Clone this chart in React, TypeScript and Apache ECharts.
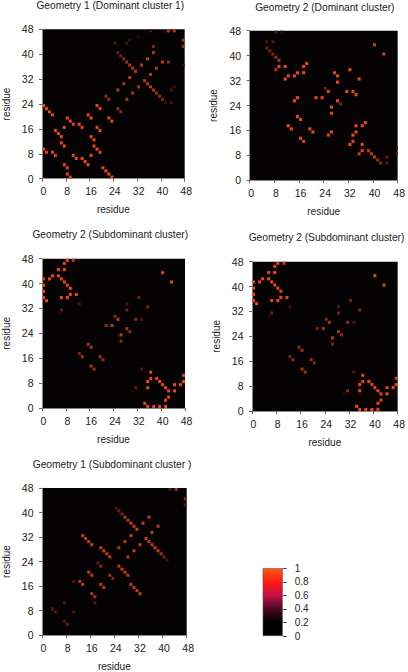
import React, { useEffect, useRef } from "react";
import * as echarts from "echarts";

const TITLES = [
  "Geometry 1 (Dominant cluster 1)",
  "Geometry 2 (Dominant cluster)",
  "Geometry 2 (Subdominant cluster)",
  "Geometry 2 (Subdominant cluster)",
  "Geometry 1 (Subdominant cluster )",
];
const AXIS_NAME = "residue";
const COLORBAR_TICKS = [0, 0.2, 0.4, 0.6, 0.8, 1];
const COLORBAR_STOPS = [
  [0, "#000000"],
  [0.2, "#000000"],
  [0.4, "#4a0a24"],
  [0.6, "#c8104a"],
  [0.8, "#ff1a14"],
  [1, "#ff5a12"],
];

type Cell = [number, number, number?];

// [residue x, residue y, intensity]; intensity defaults to 0.95
const geo1Dominant: Cell[] = [
  [0,23],[1,22],[2,21],[3,20],[0,9],[1,8],[3,8],[4,7],[7,16],[8,19],[9,18],[10,17],[12,17],[13,16],
  [4,15],[5,14],[6,13],[6,11],[7,10],[7,4],[8,3],[8,1],[9,0],[10,7],[11,6],[13,6],[14,5],[15,4],[16,7],
  [16,13],[17,12],[17,10],[18,9],[19,8],[15,20],[16,19],[18,23],[19,22],[18,16],[19,15],[22,19],[23,18],
  [20,3],[21,2],[22,1],[23,0],
  [21,26,0.55],[22,25,0.6],[25,28,0.75],[27,30,0.7],[29,32,0.75],[25,22,0.6],[26,21,0.5],
  [28,25,0.7],[30,27,0.7],[32,29,0.7],
  [24,43,0.25],[25,40,0.4],[26,39,0.45],[27,38,0.55],[28,37,0.65],[29,36,0.7],[30,35,0.75],[31,34,0.75],
  [33,36,0.75],[35,38,0.8],[37,40,0.7],[37,42,0.5],[38,35,0.7],[36,33,0.7],
  [34,31,0.75],[35,30,0.75],[36,29,0.75],[37,28,0.7],[38,27,0.65],[39,26,0.6],[40,25,0.5],[41,24,0.2],
  [40,37,0.75],[42,37,0.65],[42,47,0.75],[44,47,0.75],[47,44,0.7],[47,42,0.65],[47,36,0.2],[36,47,0.25],
  [28,43,0.25],[29,44,0.2],[32,45,0.12],[43,28,0.3],[44,29,0.2],[43,24,0.25],
];
const geo2Dominant: Cell[] = [
  [8,47,0.3],[10,47,0.12],[5,44,0.3],[7,44,0.3],[5,42,0.4],[6,41,0.45],[7,40,0.5],[8,39,0.6],[9,38,0.7],
  [8,35,0.7],[9,36],[11,36],[11,32],[12,33],[14,33],[15,34],[17,34],[17,36],[18,37],
  [14,25],[15,26],[12,17],[13,16],[15,20],[16,19],[16,13],[17,12],[19,16],[20,15],
  [21,26],[23,26],[24,29,0.4],[25,28],[27,34],[28,33],[28,31],[28,25],[29,24,0.45],[26,23],[26,21],[25,14],[26,15],
  [31,28],[33,28],[34,27],[32,35],[35,32],[40,43,0.85],[43,40,0.85],
  [34,17],[36,17],[37,18],[34,15],[33,14],[33,12],[32,11],[36,11],[36,9],[35,8,0.8],[38,9,0.8],[39,8,0.75],
  [40,7,0.7],[41,6,0.6],[42,5,0.55],[44,5,0.3],[44,7,0.35],[47,8,0.25],[47,10,0.12],
];
const geo2SubA: Cell[] = [
  [0,41],[0,39],[0,37],[0,35],[1,34],[2,41],[3,42],[5,42],[6,41],[7,40],[8,39],[9,38],[9,36],[8,35],[6,35],[11,36],
  [5,44],[7,44],[7,46],[8,47],[10,47,0.8],[12,33,0.3],[6,31,0.4],[5,30,0.12],[40,43],[43,40],
  [12,17,0.5],[13,16,0.65],[15,20,0.65],[16,19,0.7],[16,13,0.7],[17,12,0.65],[19,16,0.65],[20,15,0.6],
  [21,26,0.6],[23,26,0.75],[24,29,0.55],[25,28,0.75],[28,33,0.3],[28,31,0.45],[28,25,0.7],[29,24,0.6],
  [26,23,0.8],[26,21,0.55],[31,28,0.55],[33,28,0.3],[32,35,0.45],[35,32,0.5],
  [33,12,0.3],[36,11],[36,9],[35,8],[35,6],[38,9],[39,8],[40,7],[41,6],[42,5],[44,5],[44,7],[46,7],[47,8],[47,10,0.85],
  [42,3],[41,2],[41,0],[39,0],[37,0],[35,0],[34,1],[31,6,0.4],[30,5,0.12],
];
const geo2SubB: Cell[] = [
  [0,41],[0,39],[0,37],[0,35],[1,34],[2,41],[3,42],[5,42],[6,41],[7,40],[8,39],[9,38],[9,36],[8,35],[6,35],[11,36],
  [5,44],[7,44],[7,46],[8,47],[10,47,0.8],[12,33,0.3],[6,31,0.4],[5,30,0.12],[40,43],[43,40],
  [12,17,0.45],[13,16,0.6],[15,20,0.6],[16,19,0.65],[16,13,0.7],[17,12,0.65],[19,16,0.6],[20,15,0.55],
  [21,26,0.45],[23,26,0.65],[24,29,0.5],[25,28,0.7],[28,33,0.3],[28,31,0.45],[28,25,0.7],[29,24,0.55],
  [26,23,0.75],[26,21,0.5],[31,28,0.55],[33,28,0.3],[32,35,0.45],[35,32,0.5],
  [33,12,0.3],[36,11],[36,9],[35,8],[35,6],[38,9],[39,8],[40,7],[41,6],[42,5],[44,5],[44,7],[46,7],[47,8],[47,10,0.85],
  [42,3],[41,2],[41,0],[39,0],[37,0],[35,0],[34,1],[31,6,0.5],[30,5,0.12],
];
const geo1Sub: Cell[] = [
  [42,47,0.35],[44,47,0.65],[47,44,0.55],[47,42,0.35],[24,41,0.25],[25,40,0.45],[26,39,0.5],[27,38,0.75],[28,37,0.75],
  [29,36,0.8],[30,35,0.8],[31,34,0.8],[35,38,0.8],[33,36,0.8],[38,35,0.8],[36,33,0.8],[29,32,0.8],[27,30,0.8],[25,28,0.7],
  [28,25,0.7],[30,27,0.8],[32,29,0.8],[34,31,0.8],[35,30,0.8],[36,29,0.8],[37,28,0.8],[38,27,0.8],[39,26,0.65],[40,25,0.45],[41,24,0.25],
  [13,32,0.8],[14,31,0.8],[15,30,0.8],[16,29,0.8],[19,28,0.8],[20,27,0.8],[21,26,0.8],[22,25,0.8],[18,23,0.35],[19,22,0.6],
  [15,20,0.8],[16,19,0.75],[22,19,0.65],[23,18,0.5],[25,22,0.8],[26,21,0.8],[27,20,0.8],[28,19,0.8],[29,16,0.8],[30,15,0.8],[31,14,0.8],[32,13,0.8],
  [19,16,0.75],[20,15,0.75],[12,17,0.7],[13,16,0.8],[10,17,0.3],[16,13,0.75],[17,12,0.7],[17,10,0.35],
  [3,8,0.35],[4,7,0.35],[7,10,0.3],[10,7,0.3],[7,4,0.35],[8,3,0.4],
];

const PANELS: { cells: Cell[]; left: number; right: number; top: number; bottom: number; titleX: number; titleY: number }[] = [
  { cells: geo1Dominant, left: 35.7, right: 184.7, top: 29.3, bottom: 178.7, titleX: 110.3, titleY: 0 },
  { cells: geo2Dominant, left: 249.7, right: 399.3, top: 30.7, bottom: 180.3, titleX: 324.8, titleY: 2 },
  { cells: geo2SubA, left: 35.7, right: 185, top: 258.7, bottom: 408, titleX: 110.3, titleY: 229 },
  { cells: geo2SubB, left: 252, right: 401.3, top: 261.7, bottom: 411, titleX: 326.5, titleY: 232 },
  { cells: geo1Sub, left: 37.3, right: 186.7, top: 488, bottom: 637.3, titleX: 112, titleY: 459 },
];

const W = 408;
const H = 672;
const FONT = "Liberation Sans";
const TEXT = "#222222";
const BG = "#040202";

function buildOption() {
  const grids: any[] = [];
  const xAxes: any[] = [];
  const yAxes: any[] = [];
  const series: any[] = [];
  const titles: any[] = [];
  PANELS.forEach((p, i) => {
    grids.push({
      left: p.left,
      top: p.top,
      width: p.right - p.left,
      height: p.bottom - p.top,
      show: true,
      backgroundColor: BG,
      borderWidth: 0,
    });
    const common = {
      type: "value",
      min: 0,
      max: 48,
      interval: 8,
      gridIndex: i,
      name: AXIS_NAME,
      nameLocation: "middle",
      nameTextStyle: { fontFamily: FONT, fontSize: 10, color: TEXT },
      splitLine: { show: false },
      axisLine: { show: true, onZero: false, lineStyle: { color: "#888888", width: 1 } },
      axisTick: { show: true, length: 3, lineStyle: { color: "#666666", width: 1 } },
    };
    xAxes.push({
      ...common,
      nameGap: 26,
      axisLabel: { fontFamily: FONT, fontSize: 10.5, color: TEXT, margin: 7, padding: [0, 0, 0, 3], showMinLabel: true, showMaxLabel: true, hideOverlap: false },
    });
    yAxes.push({
      ...common,
      nameGap: 31,
      axisLabel: { fontFamily: FONT, fontSize: 10.5, color: TEXT, margin: 8.5, showMinLabel: true, showMaxLabel: true, hideOverlap: false },
    });
    series.push({
      type: "custom",
      xAxisIndex: i,
      yAxisIndex: i,
      clip: false,
      silent: true,
      data: p.cells.map((c) => [c[0], c[1], c[2] ?? 0.95]),
      renderItem: (_: any, api: any) => {
        const x = api.value(0);
        const y = api.value(1);
        const a = api.coord([x, y + 1]);
        const b = api.coord([x + 1, y]);
        return {
          type: "rect",
          shape: { x: a[0], y: a[1], width: b[0] - a[0], height: b[1] - a[1] },
          style: { fill: echarts.color.lerp(api.value(2), [BG, "#f5481a"]) },
        };
      },
    });
    titles.push({
      text: TITLES[i],
      left: p.titleX,
      top: p.titleY,
      padding: 0,
      textAlign: "center",
      textStyle: { fontFamily: FONT, fontSize: 10.2, fontWeight: "normal", color: TEXT },
    });
  });

  // colour bar
  const cb = PANELS.length;
  grids.push({ left: 262.7, top: 568.3, width: 20, height: 67.7, show: false });
  xAxes.push({ type: "category", gridIndex: cb, data: [""], show: false });
  yAxes.push({
    type: "value",
    gridIndex: cb,
    position: "right",
    min: 0,
    max: 1,
    interval: 0.2,
    splitLine: { show: false },
    axisLine: { show: false },
    axisTick: { show: true, length: 4, lineStyle: { color: "#444444", width: 1 } },
    axisLabel: { fontFamily: FONT, fontSize: 10, color: TEXT, margin: 12, hideOverlap: false, formatter: (v: number) => String(+v.toFixed(1)) },
  });
  series.push({
    type: "bar",
    xAxisIndex: cb,
    yAxisIndex: cb,
    data: [COLORBAR_TICKS[COLORBAR_TICKS.length - 1]],
    barWidth: "100%",
    silent: true,
    itemStyle: {
      borderColor: "#5a4a4a",
      borderWidth: 0.6,
      color: new echarts.graphic.LinearGradient(
        0, 1, 0, 0,
        COLORBAR_STOPS.map(([offset, color]) => ({ offset: offset as number, color: color as string }))
      ),
    },
  });

  return { animation: false, backgroundColor: "#ffffff", title: titles, grid: grids, xAxis: xAxes, yAxis: yAxes, series };
}

export default function App() {
  const ref = useRef<HTMLDivElement>(null);
  useEffect(() => {
    const el = ref.current!;
    const chart = echarts.init(el, undefined, { renderer: "svg" });
    chart.setOption(buildOption() as any);
    return () => chart.dispose();
  }, []);
  return <div ref={ref} style={{ position: "fixed", left: 0, top: 0, width: W, height: H }} />;
}
